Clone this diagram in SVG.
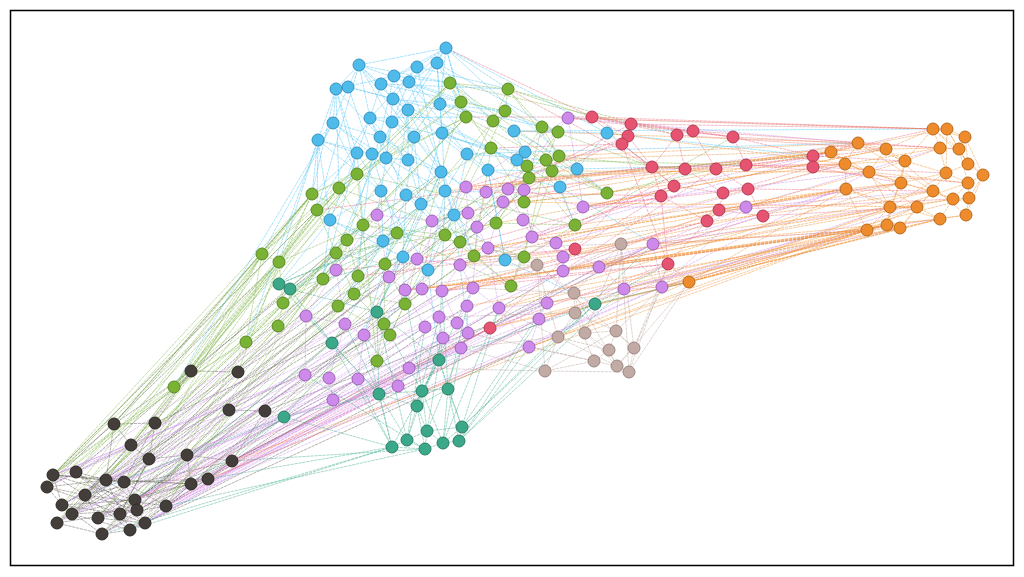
<svg xmlns="http://www.w3.org/2000/svg" width="1024" height="577" viewBox="0 0 1024 577">
<style>
.e{fill:none;stroke-width:0.75;stroke-dasharray:2.5 1.5;stroke-linecap:round}
.ek{stroke:#4a4540;opacity:.55}.eg{stroke:#7cb342;opacity:.6}.eb{stroke:#4fc3f7;opacity:.65}.ep{stroke:#cc88ee;opacity:.6}
.er{stroke:#e8556f;opacity:.55}.eo{stroke:#ef8c2a;opacity:.6}.et{stroke:#b8a09a;opacity:.6}.ec{stroke:#3aa98a;opacity:.6}
circle{stroke-width:1}
.k{fill:#433e39;stroke:#2c2825}.c{fill:#3ba88a;stroke:#2b7d66}.t{fill:#c2aaa5;stroke:#9a8580}.p{fill:#cd8aeb;stroke:#9c62b5}
.g{fill:#79b234;stroke:#5a8a25}.b{fill:#4fbbea;stroke:#3592bf}.r{fill:#e65472;stroke:#b23a52}.o{fill:#ee8b2c;stroke:#b86a1a}
</style>
<rect x="0" y="0" width="1024" height="577" fill="#ffffff"/>
<rect x="10.5" y="10.5" width="1003" height="555" fill="#ffffff" stroke="#000000" stroke-width="1.5"/>
<g id="connectors">
<path class="e ek" d="M53 475L106 480 M53 475L85 495 M53 475L124 482 M53 475L135 500 M53 475L62 505 M76 472L106 480 M76 472L137 510 M76 472L47 487 M76 472L120 514 M47 487L85 495 M47 487L62 505 M47 487L106 480 M47 487L145 523 M85 495L137 510 M85 495L166 506 M85 495L98 518 M85 495L130 530 M106 480L124 482 M106 480L191 484 M106 480L135 500 M106 480L72 514 M124 482L208 479 M124 482L166 506 M124 482L145 523 M124 482L57 523 M62 505L135 500 M62 505L102 534 M62 505L120 514 M72 514L137 510 M72 514L130 530 M72 514L187 455 M98 518L145 523 M98 518L166 506 M98 518L149 459 M57 523L102 534 M57 523L137 510 M57 523L131 445 M102 534L130 530 M102 534L135 500 M102 534L191 484 M130 530L166 506 M130 530L106 480 M145 523L191 484 M145 523L76 472 M135 500L208 479 M135 500L232 461 M137 510L187 455 M120 514L149 459 M166 506L191 484 M166 506L208 479 M114 424L53 475 M114 424L106 480 M114 424L155 423 M114 424L131 445 M155 423L149 459 M155 423L124 482 M155 423L191 371 M131 445L85 495 M131 445L149 459 M131 445L76 472 M149 459L187 455 M149 459L120 514 M149 459L62 505 M187 455L191 484 M187 455L232 461 M187 455L98 518 M229 410L265 411 M229 410L187 455 M229 410L124 482 M238 372L191 371 M238 372L149 459 M191 371L114 424 M191 371L131 445 M232 461L208 479 M232 461L85 495 M265 411L232 461 M265 411L135 500 M208 479L72 514 M191 484L53 475 M53 475L317 210 M76 472L363 225 M106 480L397 233 M124 482L445 235 M135 500L460 265 M131 445L385 264 M149 459L417 259 M187 455L442 291 M191 371L336 253 M238 372L389 277 M114 424L312 194 M155 423L405 304 M229 410L473 288 M265 411L547 303 M232 461L599 267 M208 479L563 271 M166 506L467 306 M145 523L539 319 M102 534L425 327 M57 523L338 306 M62 505L377 312 M85 495L441 172 M47 487L279 262 M130 530L529 347 M137 510L653 244 M98 518L358 379 M120 514L503 202 M72 514L486 192 M191 484L524 190"/>
<path class="e eg" d="M450 83L508 89 M450 83L461 102 M450 83L466 117 M450 83L493 121 M508 89L505 111 M508 89L542 127 M508 89L559 156 M461 102L491 148 M461 102L505 111 M466 117L527 166 M466 117L546 160 M505 111L558 132 M493 121L552 171 M542 127L559 156 M542 127L529 178 M558 132L546 160 M491 148L524 202 M491 148L529 178 M527 166L575 225 M546 160L607 193 M552 171L607 193 M529 178L496 223 M357 174L339 188 M357 174L312 194 M357 174L466 117 M357 174L450 83 M339 188L317 210 M339 188L363 225 M312 194L262 254 M312 194L279 262 M317 210L347 240 M317 210L336 253 M363 225L397 233 M363 225L445 235 M397 233L460 242 M397 233L385 264 M445 235L474 256 M445 235L496 223 M460 242L524 257 M460 242L511 286 M496 223L524 202 M496 223L575 225 M347 240L323 279 M347 240L358 276 M262 254L279 262 M262 254L246 342 M279 262L283 303 M336 253L354 294 M336 253L385 264 M385 264L405 304 M385 264L384 324 M474 256L511 286 M474 256L524 257 M323 279L283 303 M323 279L278 326 M358 276L338 306 M358 276L390 335 M354 294L384 324 M354 294L405 304 M283 303L278 326 M338 306L390 335 M405 304L377 361 M384 324L377 361 M278 326L246 342 M246 342L174 387 M524 257L575 225 M552 171L524 202 M312 194L466 117 M317 210L461 102 M262 254L450 83 M246 342L363 225 M174 387L317 210 M174 387L339 188 M174 387L262 254 M174 387L312 194 M246 342L312 194 M278 326L450 83 M283 303L466 117 M607 193L493 121 M607 193L450 83 M575 225L357 174 M524 257L339 188 M511 286L312 194 M405 304L461 102 M377 361L357 174 M390 335L508 89 M174 387L53 475 M174 387L106 480 M246 342L85 495 M262 254L57 523 M279 262L76 472 M312 194L62 505 M317 210L124 482 M283 303L47 487 M323 279L135 500 M246 342L145 523 M278 326L102 534 M339 188L72 514 M357 174L98 518 M262 254L120 514 M336 253L166 506 M363 225L130 530 M385 264L137 510 M397 233L53 475 M347 240L47 487 M312 194L53 475 M508 89L677 135 M542 127L652 167 M559 156L685 169 M607 193L716 169 M529 178L813 156 M546 160L746 165 M575 225L733 137 M508 89L592 117 M450 83L631 124 M491 148L377 215 M529 178L432 221 M559 156L417 259 M317 210L53 475 M312 194L76 472 M339 188L106 480 M262 254L47 487 M279 262L53 475 M283 303L62 505 M278 326L72 514 M246 342L57 523 M323 279L98 518 M336 253L85 495 M347 240L124 482 M358 276L137 510 M354 294L145 523 M385 264L102 534 M397 233L120 514 M445 235L130 530 M363 225L166 506 M405 304L191 484 M384 324L208 479 M390 335L187 455 M357 174L131 445 M312 194L114 424 M317 210L155 423 M262 254L191 371 M279 262L238 372 M174 387L450 83 M246 342L466 117 M262 254L357 174 M279 262L363 225 M174 387L357 174 M450 83L357 174 M461 102L339 188 M466 117L363 225 M493 121L397 233 M505 111L445 235 M542 127L460 242 M558 132L496 223 M491 148L474 256 M546 160L524 257 M559 156L511 286 M527 166L405 304 M529 178L385 264 M552 171L575 225 M524 202L607 193 M496 223L460 242 M397 233L347 240 M445 235L336 253 M363 225L358 276 M385 264L338 306 M474 256L405 304 M511 286L524 257"/>
<path class="e eb" d="M446 48L437 63 M446 48L417 67 M446 48L409 82 M446 48L440 104 M446 48L394 76 M446 48L508 89 M446 48L392 122 M359 65L336 89 M359 65L348 87 M359 65L381 84 M359 65L393 99 M359 65L370 118 M359 65L414 137 M437 63L409 82 M437 63L440 104 M437 63L408 110 M437 63L442 133 M417 67L394 76 M417 67L393 99 M417 67L441 172 M394 76L381 84 M394 76L408 110 M394 76L380 137 M409 82L440 104 M409 82L392 122 M409 82L467 154 M381 84L393 99 M381 84L370 118 M348 87L333 123 M348 87L372 154 M336 89L333 123 M336 89L318 140 M336 89L357 153 M393 99L408 110 M393 99L414 137 M393 99L386 158 M440 104L442 133 M440 104L488 170 M440 104L514 131 M408 110L392 122 M408 110L441 172 M408 110L408 160 M370 118L380 137 M370 118L357 153 M370 118L386 158 M392 122L414 137 M392 122L381 191 M333 123L318 140 M333 123L372 154 M333 123L380 137 M442 133L467 154 M442 133L445 191 M442 133L517 160 M380 137L408 160 M380 137L406 195 M414 137L441 172 M414 137L421 204 M318 140L357 153 M318 140L330 220 M357 153L381 191 M372 154L386 158 M372 154L406 195 M386 158L408 160 M386 158L445 191 M408 160L441 172 M408 160L421 204 M467 154L488 170 M467 154L525 152 M467 154L445 191 M514 131L525 152 M514 131L607 133 M525 152L517 160 M517 160L577 169 M517 160L560 187 M488 170L560 187 M441 172L454 215 M381 191L330 220 M381 191L383 241 M406 195L421 204 M406 195L403 257 M445 191L454 215 M445 191L428 270 M421 204L383 241 M454 215L505 260 M454 215L428 270 M330 220L383 241 M403 257L428 270 M577 169L560 187 M607 133L577 169 M505 260L488 170 M318 140L279 262 M333 123L262 254 M336 89L312 194 M359 65L317 210 M446 48L607 133 M446 48L577 169 M381 84L508 89 M409 82L542 127 M437 63L558 132 M393 99L491 148 M370 118L466 117 M408 110L527 166 M330 220L279 284 M383 241L338 306 M403 257L377 312 M428 270L439 360 M505 260L595 304 M560 187L653 244 M577 169L746 165 M607 133L813 156 M514 131L933 129 M525 152L858 143 M441 172L389 277 M406 195L364 335 M421 204L306 316 M454 215L468 333 M357 153L323 279 M372 154L354 294 M318 140L246 342 M333 123L174 387 M446 48L359 65 M359 65L450 83 M359 65L461 102 M348 87L466 117 M336 89L357 174 M336 89L339 188 M318 140L312 194 M318 140L317 210 M333 123L357 174 M370 118L491 148 M381 84L461 102 M393 99L505 111 M394 76L450 83 M417 67L508 89 M437 63L493 121 M440 104L542 127 M442 133L527 166 M467 154L546 160 M488 170L552 171 M441 172L466 187 M445 191L486 192 M421 204L468 213 M406 195L432 221 M381 191L377 215 M357 153L363 225 M372 154L397 233 M386 158L445 235 M408 160L460 242 M414 137L496 223 M380 137L347 240 M392 122L336 253 M408 110L385 264 M409 82L474 256 M393 99L524 202 M370 118L317 210 M357 153L312 194 M330 220L323 279 M383 241L354 294 M403 257L405 304 M428 270L384 324 M454 215L474 256 M505 260L524 257 M560 187L575 225 M577 169L607 193 M514 131L559 156 M525 152L491 148 M517 160L529 178 M607 133L652 167 M446 48L466 117 M446 48L461 102 M437 63L466 117 M417 67L370 118 M394 76L336 89 M359 65L392 122 M336 89L380 137 M348 87L393 99 M318 140L372 154 M333 123L386 158 M370 118L408 160 M380 137L441 172 M392 122L445 191 M414 137L406 195 M442 133L421 204 M467 154L454 215 M488 170L505 260 M330 220L403 257 M381 191L428 270 M357 153L330 220 M318 140L381 191"/>
<path class="e ep" d="M466 187L486 192 M466 187L432 221 M466 187L468 213 M466 187L417 259 M486 192L508 189 M486 192L477 227 M486 192L503 202 M508 189L524 190 M508 189L523 220 M524 190L583 207 M524 190L532 237 M503 202L488 248 M503 202L556 243 M468 213L477 227 M468 213L460 265 M432 221L377 215 M432 221L389 277 M432 221L422 289 M377 215L336 270 M377 215L389 277 M523 220L532 237 M523 220L563 257 M477 227L488 248 M477 227L473 288 M532 237L556 243 M532 237L563 271 M488 248L460 265 M488 248L499 308 M556 243L563 257 M556 243L599 267 M563 257L563 271 M563 271L599 267 M563 271L547 303 M599 267L624 289 M599 267L653 244 M653 244L662 287 M624 289L662 287 M417 259L460 265 M417 259L405 290 M460 265L442 291 M460 265L473 288 M336 270L306 316 M336 270L345 324 M389 277L405 290 M389 277L364 335 M405 290L422 289 M405 290L425 327 M422 289L442 291 M422 289L439 317 M442 291L473 288 M442 291L457 323 M473 288L467 306 M473 288L499 308 M467 306L468 333 M467 306L457 323 M499 308L547 303 M499 308L529 347 M547 303L539 319 M539 319L529 347 M306 316L345 324 M306 316L305 375 M345 324L364 335 M345 324L329 378 M439 317L457 323 M439 317L443 338 M425 327L443 338 M425 327L409 368 M364 335L358 379 M468 333L461 348 M443 338L461 348 M461 348L409 368 M409 368L398 386 M398 386L358 379 M305 375L329 378 M329 378L333 400 M358 379L333 400 M568 118L583 207 M568 118L508 189 M746 207L662 287 M746 207L599 267 M746 207L940 148 M746 207L901 183 M662 287L890 207 M653 244L867 230 M624 289L887 225 M599 267L846 189 M583 207L831 152 M568 118L858 143 M547 303L900 228 M529 347L869 172 M305 375L53 475 M333 400L85 495 M329 378L106 480 M358 379L135 500 M398 386L166 506 M409 368L191 484 M306 316L47 487 M345 324L76 472 M461 348L145 523 M539 319L102 534 M599 267L130 530 M662 287L137 510 M529 347L208 479 M547 303L232 461 M364 335L62 505 M468 333L98 518 M443 338L57 523 M499 308L120 514 M624 289L72 514 M583 207L187 455 M662 287L166 506 M653 244L191 484 M563 271L53 475 M539 319L124 482 M568 118L466 187 M583 207L746 207 M305 375L85 495 M329 378L53 475 M333 400L106 480 M358 379L124 482 M398 386L145 523 M409 368L166 506 M461 348L191 484 M468 333L208 479 M443 338L232 461 M425 327L135 500 M364 335L47 487 M345 324L62 505 M306 316L72 514 M336 270L57 523 M389 277L98 518 M405 290L102 534 M422 289L120 514 M442 291L130 530 M473 288L137 510 M499 308L145 523 M547 303L166 506 M563 271L187 455 M653 244L890 207 M662 287L867 230 M599 267L940 219 M624 289L917 207 M563 271L846 189 M583 207L869 172 M568 118L933 129 M746 207L933 191 M556 243L845 164 M532 237L831 152 M524 190L858 143"/>
<path class="e er" d="M592 117L631 124 M592 117L628 136 M592 117L622 144 M592 117L677 135 M631 124L628 136 M631 124L693 131 M631 124L733 137 M628 136L622 144 M628 136L652 167 M622 144L652 167 M622 144L674 186 M677 135L693 131 M677 135L685 169 M677 135L652 167 M693 131L733 137 M693 131L716 169 M733 137L746 165 M733 137L813 156 M652 167L685 169 M652 167L661 196 M652 167L674 186 M685 169L716 169 M685 169L723 193 M716 169L746 165 M716 169L748 189 M746 165L813 156 M746 165L813 167 M813 156L813 167 M674 186L661 196 M674 186L723 193 M661 196L707 221 M661 196L668 264 M723 193L748 189 M723 193L719 210 M748 189L763 216 M719 210L707 221 M719 210L763 216 M707 221L668 264 M575 249L652 167 M575 249L661 196 M490 328L575 249 M490 328L668 264 M668 264L622 144 M813 167L723 193 M446 48L592 117 M592 117L933 129 M631 124L947 129 M677 135L886 149 M693 131L940 148 M733 137L959 149 M813 156L905 161 M813 167L946 173 M746 165L968 183 M748 189L933 191 M763 216L917 207 M719 210L953 199 M652 167L508 89 M652 167L466 187 M622 144L491 148 M661 196L486 192 M674 186L460 265 M668 264L405 290 M707 221L442 291 M575 249L358 276 M490 328L232 461 M668 264L191 484 M652 167L317 210 M685 169L524 257 M716 169L563 271 M628 136L524 190 M813 156L858 143 M813 167L845 164 M652 167L845 164 M685 169L831 152 M592 117L466 117 M631 124L508 189 M628 136L486 192 M622 144L466 187 M652 167L432 221 M674 186L417 259 M661 196L389 277 M707 221L473 288 M668 264L442 291 M575 249L336 270 M490 328L135 500 M490 328L166 506 M719 210L563 271 M763 216L599 267 M748 189L583 207 M733 137L568 118 M693 131L592 117 M813 156L933 129 M813 167L901 183 M746 165L886 149"/>
<path class="e eo" d="M933 129L947 129 M933 129L965 137 M933 129L940 148 M933 129L886 149 M933 129L959 149 M933 129L905 161 M947 129L965 137 M947 129L959 149 M947 129L968 164 M947 129L946 173 M965 137L959 149 M965 137L968 164 M965 137L983 175 M858 143L831 152 M858 143L886 149 M858 143L845 164 M858 143L905 161 M831 152L845 164 M831 152L869 172 M886 149L905 161 M886 149L940 148 M886 149L869 172 M940 148L959 149 M940 148L946 173 M940 148L905 161 M959 149L968 164 M959 149L968 183 M845 164L869 172 M845 164L846 189 M905 161L946 173 M905 161L901 183 M905 161L869 172 M869 172L901 183 M869 172L890 207 M968 164L983 175 M968 164L946 173 M946 173L968 183 M946 173L933 191 M983 175L968 183 M983 175L969 198 M901 183L933 191 M901 183L890 207 M901 183L846 189 M968 183L969 198 M968 183L953 199 M933 191L953 199 M933 191L917 207 M846 189L890 207 M846 189L867 230 M953 199L969 198 M953 199L940 219 M969 198L966 215 M890 207L917 207 M890 207L887 225 M917 207L940 219 M917 207L900 228 M940 219L966 215 M940 219L900 228 M887 225L900 228 M867 230L887 225 M867 230L890 207 M966 215L983 175 M933 129L983 175 M858 143L933 191 M886 149L966 215 M845 164L953 199 M831 152L917 207 M831 152L947 129 M846 189L940 219 M869 172L968 183 M900 228L933 191 M887 225L905 161 M867 230L917 207 M890 207L946 173 M845 164L940 148 M689 282L867 230 M689 282L887 225 M689 282L900 228 M689 282L890 207 M689 282L846 189 M689 282L940 219 M867 230L662 287 M867 230L599 267 M887 225L547 303 M900 228L624 289 M890 207L563 271 M846 189L556 243 M846 189L488 248 M831 152L524 190 M831 152L466 187 M858 143L503 202 M886 149L583 207 M845 164L460 265 M869 172L442 291 M901 183L499 308 M933 191L473 288 M917 207L529 347 M940 219L539 319 M953 199L653 244 M867 230L405 290 M887 225L422 289 M867 230L490 328 M846 189L417 259 M831 152L445 191 M858 143L514 131 M845 164L607 133 M933 129L568 118 M886 149L477 227 M689 282L208 479 M867 230L232 461 M689 282L662 287 M689 282L668 264 M867 230L563 271 M887 225L599 267 M900 228L653 244 M890 207L524 257 M846 189L575 225 M845 164L524 202 M831 152L607 193 M858 143L559 156 M886 149L546 160 M905 161L529 178 M869 172L552 171 M901 183L532 237 M933 191L556 243 M917 207L503 202 M940 219L460 265 M953 199L442 291 M966 215L422 289 M969 198L624 289 M946 173L563 257 M968 183L662 287 M689 282L490 328 M689 282L539 319 M689 282L547 303 M867 230L529 347 M887 225L499 308 M900 228L467 306"/>
<path class="e et" d="M621 244L574 293 M621 244L616 331 M621 244L585 333 M621 244L634 348 M537 265L574 293 M537 265L558 337 M537 265L545 371 M574 293L575 313 M574 293L585 333 M575 313L558 337 M575 313L616 331 M575 313L594 361 M558 337L545 371 M558 337L609 350 M558 337L629 372 M585 333L616 331 M585 333L609 350 M585 333L617 366 M616 331L634 348 M616 331L609 350 M634 348L629 372 M634 348L617 366 M609 350L594 361 M609 350L617 366 M594 361L545 371 M594 361L617 366 M617 366L629 372 M545 371L629 372 M621 244L629 372 M537 265L634 348 M545 371L616 331 M574 293L617 366 M621 244L488 248 M621 244L662 287 M537 265L460 265 M537 265L405 290 M574 293L473 288 M575 313L439 317 M558 337L461 348 M545 371L409 368 M594 361L468 333 M616 331L662 287 M634 348L668 264 M629 372L689 282 M621 244L563 271 M537 265L488 248 M545 371L461 348 M594 361L529 347 M629 372L668 264 M634 348L662 287 M617 366L689 282 M558 337L499 308"/>
<path class="e ec" d="M379 394L422 391 M379 394L417 406 M379 394L392 447 M379 394L407 440 M422 391L448 389 M422 391L417 406 M422 391L427 431 M422 391L443 443 M448 389L417 406 M448 389L462 427 M448 389L459 441 M448 389L443 443 M417 406L427 431 M417 406L407 440 M417 406L425 449 M462 427L427 431 M462 427L459 441 M462 427L443 443 M427 431L407 440 M427 431L443 443 M427 431L425 449 M407 440L392 447 M407 440L425 449 M443 443L459 441 M443 443L425 449 M392 447L425 449 M439 360L379 394 M439 360L422 391 M439 360L448 389 M439 360L417 406 M439 360L462 427 M439 360L392 447 M377 312L379 394 M377 312L422 391 M377 312L439 360 M377 312L407 440 M332 343L379 394 M332 343L392 447 M284 417L392 447 M284 417L379 394 M595 304L462 427 M595 304L459 441 M595 304L439 360 M279 284L290 289 M279 284L332 343 M290 289L377 312 M290 289L332 343 M279 284L441 172 M290 289L454 215 M377 312L421 204 M439 360L445 191 M448 389L467 306 M462 427L499 308 M459 441L529 347 M443 443L461 348 M427 431L443 338 M407 440L425 327 M392 447L364 335 M379 394L345 324 M417 406L439 317 M422 391L473 288 M595 304L689 282 M595 304L668 264 M462 427L653 244 M459 441L624 289 M284 417L232 461 M284 417L191 484 M392 447L208 479 M332 343L135 500 M284 417L85 495 M392 447L130 530 M425 449L166 506 M290 289L403 257 M279 284L383 241 M422 391L405 290 M448 389L442 291 M462 427L547 303 M459 441L539 319 M443 443L499 308 M427 431L468 333 M407 440L443 338 M392 447L358 379 M425 449L305 375 M379 394L306 316 M417 406L364 335 M439 360L409 368 M377 312L441 172 M332 343L421 204 M284 417L377 312 M279 284L454 215 M290 289L445 191 M595 304L575 313 M595 304L558 337 M392 447L102 534 M425 449L232 461"/>
</g>
<g id="nodes">
<g id="d1"><circle class="k" cx="191" cy="371" r="6"/></g>
<g id="d2"><circle class="k" cx="238" cy="372" r="6"/></g>
<g id="d3"><circle class="k" cx="114" cy="424" r="6"/></g>
<g id="d4"><circle class="k" cx="155" cy="423" r="6"/></g>
<g id="d5"><circle class="k" cx="229" cy="410" r="6"/></g>
<g id="d6"><circle class="k" cx="265" cy="411" r="6"/></g>
<g id="d7"><circle class="k" cx="131" cy="445" r="6"/></g>
<g id="d8"><circle class="k" cx="149" cy="459" r="6"/></g>
<g id="d9"><circle class="k" cx="187" cy="455" r="6"/></g>
<g id="d10"><circle class="k" cx="232" cy="461" r="6"/></g>
<g id="d11"><circle class="k" cx="53" cy="475" r="6"/></g>
<g id="d12"><circle class="k" cx="76" cy="472" r="6"/></g>
<g id="d13"><circle class="k" cx="47" cy="487" r="6"/></g>
<g id="d14"><circle class="k" cx="85" cy="495" r="6"/></g>
<g id="d15"><circle class="k" cx="106" cy="480" r="6"/></g>
<g id="d16"><circle class="k" cx="124" cy="482" r="6"/></g>
<g id="d17"><circle class="k" cx="62" cy="505" r="6"/></g>
<g id="d18"><circle class="k" cx="72" cy="514" r="6"/></g>
<g id="d19"><circle class="k" cx="191" cy="484" r="6"/></g>
<g id="d20"><circle class="k" cx="208" cy="479" r="6"/></g>
<g id="d21"><circle class="k" cx="135" cy="500" r="6"/></g>
<g id="d22"><circle class="k" cx="137" cy="510" r="6"/></g>
<g id="d23"><circle class="k" cx="120" cy="514" r="6"/></g>
<g id="d24"><circle class="k" cx="98" cy="518" r="6"/></g>
<g id="d25"><circle class="k" cx="166" cy="506" r="6"/></g>
<g id="d26"><circle class="k" cx="57" cy="523" r="6"/></g>
<g id="d27"><circle class="k" cx="145" cy="523" r="6"/></g>
<g id="d28"><circle class="k" cx="102" cy="534" r="6"/></g>
<g id="d29"><circle class="k" cx="130" cy="530" r="6"/></g>
<g id="c1"><circle class="c" cx="279" cy="284" r="6"/></g>
<g id="c2"><circle class="c" cx="290" cy="289" r="6"/></g>
<g id="c3"><circle class="c" cx="377" cy="312" r="6"/></g>
<g id="c4"><circle class="c" cx="332" cy="343" r="6"/></g>
<g id="c5"><circle class="c" cx="595" cy="304" r="6"/></g>
<g id="c6"><circle class="c" cx="439" cy="360" r="6"/></g>
<g id="c7"><circle class="c" cx="379" cy="394" r="6"/></g>
<g id="c8"><circle class="c" cx="422" cy="391" r="6"/></g>
<g id="c9"><circle class="c" cx="448" cy="389" r="6"/></g>
<g id="c10"><circle class="c" cx="417" cy="406" r="6"/></g>
<g id="c11"><circle class="c" cx="462" cy="427" r="6"/></g>
<g id="c12"><circle class="c" cx="427" cy="431" r="6"/></g>
<g id="c13"><circle class="c" cx="407" cy="440" r="6"/></g>
<g id="c14"><circle class="c" cx="443" cy="443" r="6"/></g>
<g id="c15"><circle class="c" cx="459" cy="441" r="6"/></g>
<g id="c16"><circle class="c" cx="392" cy="447" r="6"/></g>
<g id="c17"><circle class="c" cx="425" cy="449" r="6"/></g>
<g id="c18"><circle class="c" cx="284" cy="417" r="6"/></g>
<g id="t1"><circle class="t" cx="621" cy="244" r="6"/></g>
<g id="t2"><circle class="t" cx="537" cy="265" r="6"/></g>
<g id="t3"><circle class="t" cx="574" cy="293" r="6"/></g>
<g id="t4"><circle class="t" cx="575" cy="313" r="6"/></g>
<g id="t5"><circle class="t" cx="558" cy="337" r="6"/></g>
<g id="t6"><circle class="t" cx="585" cy="333" r="6"/></g>
<g id="t7"><circle class="t" cx="616" cy="331" r="6"/></g>
<g id="t8"><circle class="t" cx="634" cy="348" r="6"/></g>
<g id="t9"><circle class="t" cx="609" cy="350" r="6"/></g>
<g id="t10"><circle class="t" cx="594" cy="361" r="6"/></g>
<g id="t11"><circle class="t" cx="617" cy="366" r="6"/></g>
<g id="t12"><circle class="t" cx="629" cy="372" r="6"/></g>
<g id="t13"><circle class="t" cx="545" cy="371" r="6"/></g>
<g id="p1"><circle class="p" cx="568" cy="118" r="6"/></g>
<g id="p2"><circle class="p" cx="466" cy="187" r="6"/></g>
<g id="p3"><circle class="p" cx="486" cy="192" r="6"/></g>
<g id="p4"><circle class="p" cx="508" cy="189" r="6"/></g>
<g id="p5"><circle class="p" cx="524" cy="190" r="6"/></g>
<g id="p6"><circle class="p" cx="503" cy="202" r="6"/></g>
<g id="p7"><circle class="p" cx="583" cy="207" r="6"/></g>
<g id="p8"><circle class="p" cx="468" cy="213" r="6"/></g>
<g id="p9"><circle class="p" cx="432" cy="221" r="6"/></g>
<g id="p10"><circle class="p" cx="377" cy="215" r="6"/></g>
<g id="p11"><circle class="p" cx="523" cy="220" r="6"/></g>
<g id="p12"><circle class="p" cx="477" cy="227" r="6"/></g>
<g id="p13"><circle class="p" cx="532" cy="237" r="6"/></g>
<g id="p14"><circle class="p" cx="488" cy="248" r="6"/></g>
<g id="p15"><circle class="p" cx="556" cy="243" r="6"/></g>
<g id="p16"><circle class="p" cx="563" cy="257" r="6"/></g>
<g id="p17"><circle class="p" cx="563" cy="271" r="6"/></g>
<g id="p18"><circle class="p" cx="599" cy="267" r="6"/></g>
<g id="p19"><circle class="p" cx="653" cy="244" r="6"/></g>
<g id="p20"><circle class="p" cx="417" cy="259" r="6"/></g>
<g id="p21"><circle class="p" cx="460" cy="265" r="6"/></g>
<g id="p22"><circle class="p" cx="336" cy="270" r="6"/></g>
<g id="p23"><circle class="p" cx="389" cy="277" r="6"/></g>
<g id="p24"><circle class="p" cx="405" cy="290" r="6"/></g>
<g id="p25"><circle class="p" cx="422" cy="289" r="6"/></g>
<g id="p26"><circle class="p" cx="442" cy="291" r="6"/></g>
<g id="p27"><circle class="p" cx="473" cy="288" r="6"/></g>
<g id="p28"><circle class="p" cx="467" cy="306" r="6"/></g>
<g id="p29"><circle class="p" cx="499" cy="308" r="6"/></g>
<g id="p30"><circle class="p" cx="547" cy="303" r="6"/></g>
<g id="p31"><circle class="p" cx="539" cy="319" r="6"/></g>
<g id="p32"><circle class="p" cx="624" cy="289" r="6"/></g>
<g id="p33"><circle class="p" cx="662" cy="287" r="6"/></g>
<g id="p34"><circle class="p" cx="306" cy="316" r="6"/></g>
<g id="p35"><circle class="p" cx="345" cy="324" r="6"/></g>
<g id="p36"><circle class="p" cx="439" cy="317" r="6"/></g>
<g id="p37"><circle class="p" cx="457" cy="323" r="6"/></g>
<g id="p38"><circle class="p" cx="425" cy="327" r="6"/></g>
<g id="p39"><circle class="p" cx="364" cy="335" r="6"/></g>
<g id="p40"><circle class="p" cx="468" cy="333" r="6"/></g>
<g id="p41"><circle class="p" cx="443" cy="338" r="6"/></g>
<g id="p42"><circle class="p" cx="461" cy="348" r="6"/></g>
<g id="p43"><circle class="p" cx="529" cy="347" r="6"/></g>
<g id="p44"><circle class="p" cx="409" cy="368" r="6"/></g>
<g id="p45"><circle class="p" cx="398" cy="386" r="6"/></g>
<g id="p46"><circle class="p" cx="305" cy="375" r="6"/></g>
<g id="p47"><circle class="p" cx="329" cy="378" r="6"/></g>
<g id="p48"><circle class="p" cx="358" cy="379" r="6"/></g>
<g id="p49"><circle class="p" cx="333" cy="400" r="6"/></g>
<g id="p50"><circle class="p" cx="746" cy="207" r="6"/></g>
<g id="g1"><circle class="g" cx="450" cy="83" r="6"/></g>
<g id="g2"><circle class="g" cx="508" cy="89" r="6"/></g>
<g id="g3"><circle class="g" cx="461" cy="102" r="6"/></g>
<g id="g4"><circle class="g" cx="466" cy="117" r="6"/></g>
<g id="g5"><circle class="g" cx="505" cy="111" r="6"/></g>
<g id="g6"><circle class="g" cx="493" cy="121" r="6"/></g>
<g id="g7"><circle class="g" cx="542" cy="127" r="6"/></g>
<g id="g8"><circle class="g" cx="558" cy="132" r="6"/></g>
<g id="g9"><circle class="g" cx="491" cy="148" r="6"/></g>
<g id="g10"><circle class="g" cx="546" cy="160" r="6"/></g>
<g id="g11"><circle class="g" cx="559" cy="156" r="6"/></g>
<g id="g12"><circle class="g" cx="527" cy="166" r="6"/></g>
<g id="g13"><circle class="g" cx="529" cy="178" r="6"/></g>
<g id="g14"><circle class="g" cx="552" cy="171" r="6"/></g>
<g id="g15"><circle class="g" cx="357" cy="174" r="6"/></g>
<g id="g16"><circle class="g" cx="339" cy="188" r="6"/></g>
<g id="g17"><circle class="g" cx="312" cy="194" r="6"/></g>
<g id="g18"><circle class="g" cx="317" cy="210" r="6"/></g>
<g id="g19"><circle class="g" cx="524" cy="202" r="6"/></g>
<g id="g20"><circle class="g" cx="363" cy="225" r="6"/></g>
<g id="g21"><circle class="g" cx="496" cy="223" r="6"/></g>
<g id="g22"><circle class="g" cx="575" cy="225" r="6"/></g>
<g id="g23"><circle class="g" cx="607" cy="193" r="6"/></g>
<g id="g24"><circle class="g" cx="397" cy="233" r="6"/></g>
<g id="g25"><circle class="g" cx="445" cy="235" r="6"/></g>
<g id="g26"><circle class="g" cx="460" cy="242" r="6"/></g>
<g id="g27"><circle class="g" cx="347" cy="240" r="6"/></g>
<g id="g28"><circle class="g" cx="262" cy="254" r="6"/></g>
<g id="g29"><circle class="g" cx="279" cy="262" r="6"/></g>
<g id="g30"><circle class="g" cx="336" cy="253" r="6"/></g>
<g id="g31"><circle class="g" cx="385" cy="264" r="6"/></g>
<g id="g32"><circle class="g" cx="474" cy="256" r="6"/></g>
<g id="g33"><circle class="g" cx="524" cy="257" r="6"/></g>
<g id="g34"><circle class="g" cx="323" cy="279" r="6"/></g>
<g id="g35"><circle class="g" cx="358" cy="276" r="6"/></g>
<g id="g36"><circle class="g" cx="354" cy="294" r="6"/></g>
<g id="g37"><circle class="g" cx="283" cy="303" r="6"/></g>
<g id="g38"><circle class="g" cx="338" cy="306" r="6"/></g>
<g id="g39"><circle class="g" cx="405" cy="304" r="6"/></g>
<g id="g40"><circle class="g" cx="278" cy="326" r="6"/></g>
<g id="g41"><circle class="g" cx="384" cy="324" r="6"/></g>
<g id="g42"><circle class="g" cx="390" cy="335" r="6"/></g>
<g id="g43"><circle class="g" cx="511" cy="286" r="6"/></g>
<g id="g44"><circle class="g" cx="377" cy="361" r="6"/></g>
<g id="g45"><circle class="g" cx="246" cy="342" r="6"/></g>
<g id="g46"><circle class="g" cx="174" cy="387" r="6"/></g>
<g id="b1"><circle class="b" cx="446" cy="48" r="6"/></g>
<g id="b2"><circle class="b" cx="359" cy="65" r="6"/></g>
<g id="b3"><circle class="b" cx="437" cy="63" r="6"/></g>
<g id="b4"><circle class="b" cx="417" cy="67" r="6"/></g>
<g id="b5"><circle class="b" cx="394" cy="76" r="6"/></g>
<g id="b6"><circle class="b" cx="409" cy="82" r="6"/></g>
<g id="b7"><circle class="b" cx="381" cy="84" r="6"/></g>
<g id="b8"><circle class="b" cx="348" cy="87" r="6"/></g>
<g id="b9"><circle class="b" cx="336" cy="89" r="6"/></g>
<g id="b10"><circle class="b" cx="393" cy="99" r="6"/></g>
<g id="b11"><circle class="b" cx="440" cy="104" r="6"/></g>
<g id="b12"><circle class="b" cx="408" cy="110" r="6"/></g>
<g id="b13"><circle class="b" cx="370" cy="118" r="6"/></g>
<g id="b14"><circle class="b" cx="392" cy="122" r="6"/></g>
<g id="b15"><circle class="b" cx="333" cy="123" r="6"/></g>
<g id="b16"><circle class="b" cx="442" cy="133" r="6"/></g>
<g id="b17"><circle class="b" cx="380" cy="137" r="6"/></g>
<g id="b18"><circle class="b" cx="414" cy="137" r="6"/></g>
<g id="b19"><circle class="b" cx="318" cy="140" r="6"/></g>
<g id="b20"><circle class="b" cx="514" cy="131" r="6"/></g>
<g id="b21"><circle class="b" cx="607" cy="133" r="6"/></g>
<g id="b22"><circle class="b" cx="357" cy="153" r="6"/></g>
<g id="b23"><circle class="b" cx="372" cy="154" r="6"/></g>
<g id="b24"><circle class="b" cx="467" cy="154" r="6"/></g>
<g id="b25"><circle class="b" cx="525" cy="152" r="6"/></g>
<g id="b26"><circle class="b" cx="386" cy="158" r="6"/></g>
<g id="b27"><circle class="b" cx="408" cy="160" r="6"/></g>
<g id="b28"><circle class="b" cx="517" cy="160" r="6"/></g>
<g id="b29"><circle class="b" cx="488" cy="170" r="6"/></g>
<g id="b30"><circle class="b" cx="441" cy="172" r="6"/></g>
<g id="b31"><circle class="b" cx="577" cy="169" r="6"/></g>
<g id="b32"><circle class="b" cx="560" cy="187" r="6"/></g>
<g id="b33"><circle class="b" cx="381" cy="191" r="6"/></g>
<g id="b34"><circle class="b" cx="445" cy="191" r="6"/></g>
<g id="b35"><circle class="b" cx="406" cy="195" r="6"/></g>
<g id="b36"><circle class="b" cx="421" cy="204" r="6"/></g>
<g id="b37"><circle class="b" cx="454" cy="215" r="6"/></g>
<g id="b38"><circle class="b" cx="330" cy="220" r="6"/></g>
<g id="b39"><circle class="b" cx="383" cy="241" r="6"/></g>
<g id="b40"><circle class="b" cx="403" cy="257" r="6"/></g>
<g id="b41"><circle class="b" cx="505" cy="260" r="6"/></g>
<g id="b42"><circle class="b" cx="428" cy="270" r="6"/></g>
<g id="r1"><circle class="r" cx="592" cy="117" r="6"/></g>
<g id="r2"><circle class="r" cx="631" cy="124" r="6"/></g>
<g id="r3"><circle class="r" cx="628" cy="136" r="6"/></g>
<g id="r4"><circle class="r" cx="622" cy="144" r="6"/></g>
<g id="r5"><circle class="r" cx="677" cy="135" r="6"/></g>
<g id="r6"><circle class="r" cx="693" cy="131" r="6"/></g>
<g id="r7"><circle class="r" cx="733" cy="137" r="6"/></g>
<g id="r8"><circle class="r" cx="652" cy="167" r="6"/></g>
<g id="r9"><circle class="r" cx="685" cy="169" r="6"/></g>
<g id="r10"><circle class="r" cx="716" cy="169" r="6"/></g>
<g id="r11"><circle class="r" cx="746" cy="165" r="6"/></g>
<g id="r12"><circle class="r" cx="813" cy="156" r="6"/></g>
<g id="r13"><circle class="r" cx="813" cy="167" r="6"/></g>
<g id="r14"><circle class="r" cx="674" cy="186" r="6"/></g>
<g id="r15"><circle class="r" cx="661" cy="196" r="6"/></g>
<g id="r16"><circle class="r" cx="723" cy="193" r="6"/></g>
<g id="r17"><circle class="r" cx="748" cy="189" r="6"/></g>
<g id="r18"><circle class="r" cx="719" cy="210" r="6"/></g>
<g id="r19"><circle class="r" cx="707" cy="221" r="6"/></g>
<g id="r20"><circle class="r" cx="763" cy="216" r="6"/></g>
<g id="r21"><circle class="r" cx="668" cy="264" r="6"/></g>
<g id="r22"><circle class="r" cx="575" cy="249" r="6"/></g>
<g id="r23"><circle class="r" cx="490" cy="328" r="6"/></g>
<g id="o1"><circle class="o" cx="933" cy="129" r="6"/></g>
<g id="o2"><circle class="o" cx="947" cy="129" r="6"/></g>
<g id="o3"><circle class="o" cx="965" cy="137" r="6"/></g>
<g id="o4"><circle class="o" cx="858" cy="143" r="6"/></g>
<g id="o5"><circle class="o" cx="831" cy="152" r="6"/></g>
<g id="o6"><circle class="o" cx="886" cy="149" r="6"/></g>
<g id="o7"><circle class="o" cx="940" cy="148" r="6"/></g>
<g id="o8"><circle class="o" cx="959" cy="149" r="6"/></g>
<g id="o9"><circle class="o" cx="845" cy="164" r="6"/></g>
<g id="o10"><circle class="o" cx="905" cy="161" r="6"/></g>
<g id="o11"><circle class="o" cx="869" cy="172" r="6"/></g>
<g id="o12"><circle class="o" cx="968" cy="164" r="6"/></g>
<g id="o13"><circle class="o" cx="946" cy="173" r="6"/></g>
<g id="o14"><circle class="o" cx="983" cy="175" r="6"/></g>
<g id="o15"><circle class="o" cx="901" cy="183" r="6"/></g>
<g id="o16"><circle class="o" cx="968" cy="183" r="6"/></g>
<g id="o17"><circle class="o" cx="933" cy="191" r="6"/></g>
<g id="o18"><circle class="o" cx="846" cy="189" r="6"/></g>
<g id="o19"><circle class="o" cx="953" cy="199" r="6"/></g>
<g id="o20"><circle class="o" cx="969" cy="198" r="6"/></g>
<g id="o21"><circle class="o" cx="890" cy="207" r="6"/></g>
<g id="o22"><circle class="o" cx="917" cy="207" r="6"/></g>
<g id="o23"><circle class="o" cx="940" cy="219" r="6"/></g>
<g id="o24"><circle class="o" cx="966" cy="215" r="6"/></g>
<g id="o25"><circle class="o" cx="867" cy="230" r="6"/></g>
<g id="o26"><circle class="o" cx="887" cy="225" r="6"/></g>
<g id="o27"><circle class="o" cx="900" cy="228" r="6"/></g>
<g id="o28"><circle class="o" cx="689" cy="282" r="6"/></g>
</g>
</svg>
